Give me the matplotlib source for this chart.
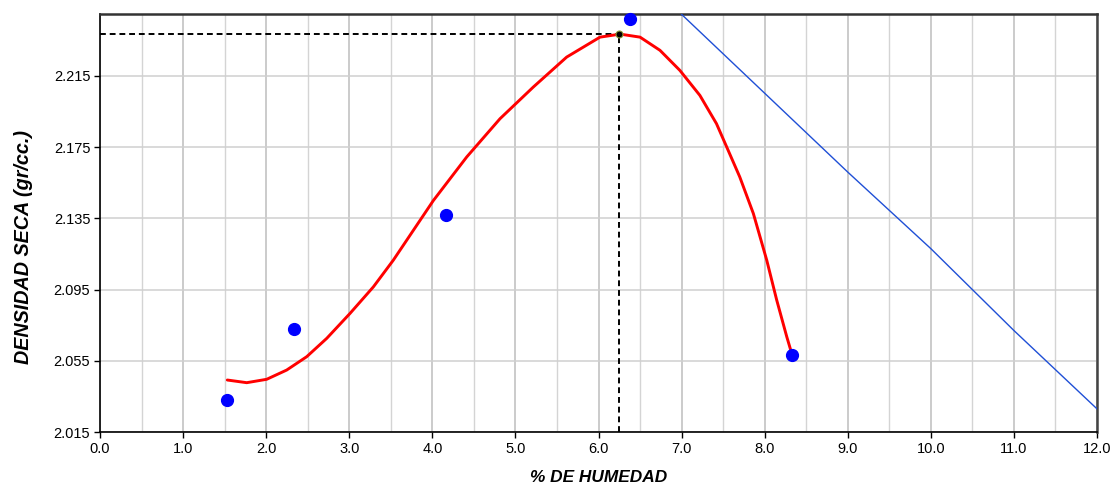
import matplotlib
matplotlib.use("Agg")
import matplotlib.pyplot as plt
from matplotlib.ticker import MultipleLocator

plt.rcParams['font.family'] = ['Liberation Sans', 'DejaVu Sans']

# Measured points
hum = [1.53, 2.33, 4.17, 6.38, 8.33]
dens = [2.033, 2.073, 2.137, 2.247, 2.058]

# Fitted curve
curve_x = [1.532, 1.766, 2.006, 2.247, 2.488, 2.729, 3.009, 3.29, 3.53, 4.012, 4.414, 4.815,
           5.216, 5.617, 6.018, 6.26, 6.50, 6.74, 6.98, 7.22, 7.42, 7.543, 7.70, 7.864,
           8.025, 8.145, 8.266, 8.325]
curve_y = [2.0442, 2.0427, 2.0446, 2.0498, 2.0573, 2.0676, 2.0816, 2.0965, 2.1115, 2.145,
           2.1695, 2.191, 2.2088, 2.2256, 2.2368, 2.2385, 2.2368, 2.2294, 2.2181, 2.2041,
           2.1882, 2.1751, 2.1583, 2.1377, 2.1115, 2.0891, 2.0685, 2.0592]

# Zero air voids line
zav_x = [7.0, 9.0, 10.0, 11.0, 12.0]
zav_y = [2.2496, 2.161, 2.118, 2.072, 2.028]

# Optimum
opt_x = 6.25
opt_y = 2.2385

xticks = [0.0, 1.0, 2.0, 3.0, 4.0, 5.0, 6.0, 7.0, 8.0, 9.0, 10.0, 11.0, 12.0]
yticks = [2.015, 2.055, 2.095, 2.135, 2.175, 2.215]

fig = plt.figure(figsize=(11.14, 4.88), dpi=100)
ax = fig.add_axes([100/1114, 1 - 432/488, (1097-100)/1114, (432-14)/488])

ax.set_xlim(0, 12)
ax.set_ylim(2.015, 2.2498)

ax.set_xticks(xticks)
ax.set_xticklabels([f"{v:.1f}" for v in xticks])
ax.set_yticks(yticks)
ax.set_yticklabels([f"{v:.3f}" for v in yticks])
ax.xaxis.set_minor_locator(MultipleLocator(0.5))

ax.grid(which='major', axis='x', color='#bdbdbd', linewidth=1.1)
ax.grid(which='minor', axis='x', color='#d4d4d4', linewidth=1.0)
ax.grid(which='major', axis='y', color='#cfcfcf', linewidth=1.1)
ax.set_axisbelow(True)

ax.tick_params(axis='both', which='major', direction='out', length=4, width=1,
               labelsize=10.5, colors='black', pad=3)
ax.tick_params(axis='x', which='minor', length=0)

for s in ['left', 'bottom']:
    ax.spines[s].set_color('black')
    ax.spines[s].set_linewidth(1.2)
ax.spines['top'].set_color('#333333')
ax.spines['top'].set_linewidth(1.8)
ax.spines['right'].set_color('#444444')
ax.spines['right'].set_linewidth(1.8)

ax.plot(zav_x, zav_y, color='#1f4fd6', linewidth=1.0, zorder=3, clip_on=True)
ax.plot([0, opt_x], [opt_y, opt_y], color='black', linestyle=(0, (3, 2)), linewidth=1.4, zorder=4)
ax.plot([opt_x, opt_x], [2.015, opt_y], color='black', linestyle=(0, (3, 2)), linewidth=1.4, zorder=4)
ax.plot(curve_x, curve_y, color='#ff0000', linewidth=2.1, zorder=5,
        solid_capstyle='round', solid_joinstyle='round')
ax.plot(hum, dens, linestyle='none', marker='o', markersize=8.5, color='#0000ff',
        markeredgecolor='#0000ff', zorder=6, clip_on=False)
ax.plot([opt_x], [opt_y], linestyle='none', marker='o', markersize=5, color='black',
        markeredgecolor='#8a9a3a', markeredgewidth=0.8, zorder=7)

ax.set_xlabel('% DE HUMEDAD', fontsize=12.4, fontweight='bold', fontstyle='italic', labelpad=10)
ax.set_ylabel('DENSIDAD SECA (gr/cc.)', fontsize=14.2, fontweight='bold', fontstyle='italic')
ax.yaxis.set_label_coords(-67/997, (432-246.5)/418)

fig.savefig('out.png', dpi=100)
